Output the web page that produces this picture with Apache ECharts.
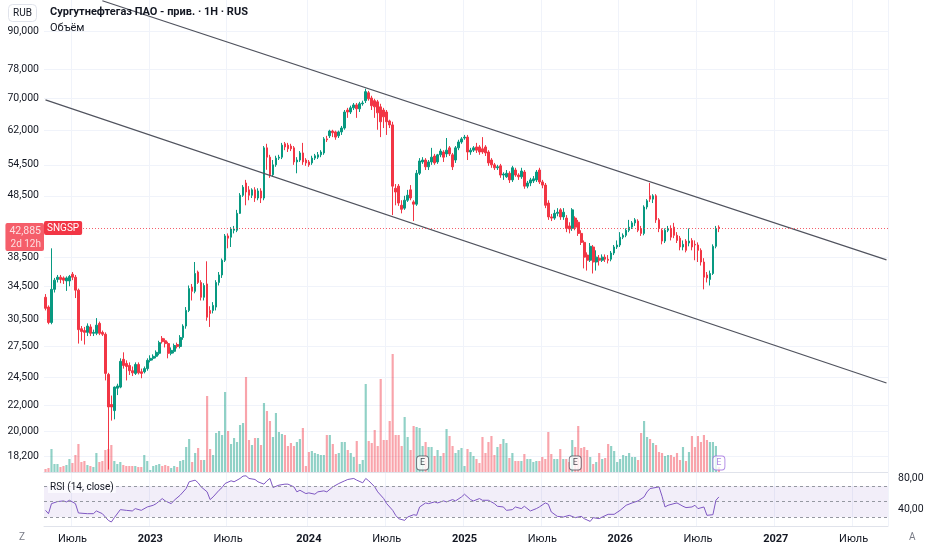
<!DOCTYPE html>
<html>
<head>
<meta charset="utf-8">
<title>SNGSP</title>
<script src="https://cdn.jsdelivr.net/npm/echarts@6.0.0/dist/echarts.min.js"></script>
<style>
  * { margin: 0; padding: 0; }
  body { background: #fff; }
  #main { width: 932px; height: 550px; }
</style>
</head>
<body>
<div id="main"></div>
<script>
// недельные свечи SNGSP (руб.), первая неделя и число недель на оси
var startWeek = '2022-04-25';
var weekCount = 282;

var openPrices = [
  33.1,31.9,30.1,34.1,35.4,35.7,35.6,35.2,35.2,36.1,
  35.7,34.0,29.4,29.2,29.0,29.6,28.9,28.9,30.0,29.0,
  28.8,24.75,22.1,21.6,23.5,23.6,26.2,25.8,25.6,25.1,
  24.85,25.7,25.0,25.0,25.3,26.1,26.3,26.5,26.8,28.35,
  28.1,27.8,26.8,27.0,27.7,27.5,28.45,29.7,31.5,34.4,
  33.85,36.4,35.0,33.1,34.8,31.5,31.5,31.9,35.0,36.0,
  38.05,41.7,41.5,42.6,42.6,45.4,48.6,50.9,49.6,48.6,
  49.6,48.1,49.4,48.1,58.1,56.1,52.5,54.5,55.9,56.1,
  59.0,58.7,58.5,58.1,55.1,55.5,57.0,55.5,55.1,54.9,
  55.9,56.1,56.6,57.0,60.1,60.8,61.9,61.7,60.8,61.7,
  62.6,67.0,66.5,67.55,68.3,67.3,68.6,69.4,71.5,70.1,
  69.4,69.1,67.8,67.0,66.5,64.3,63.35,49.9,50.3,46.8,
  46.3,47.7,49.6,47.4,47.0,52.8,55.1,55.5,54.1,55.1,
  56.35,55.1,56.6,57.2,56.8,58.1,56.6,55.5,58.1,59.4,
  60.3,60.5,57.2,57.6,58.3,58.3,57.9,58.3,57.2,55.5,
  54.5,53.9,54.3,52.45,52.1,52.8,51.5,53.45,52.45,52.1,
  53.05,50.3,50.9,51.3,51.5,53.45,51.1,50.5,47.2,44.8,
  44.6,45.4,46.0,44.8,44.6,43.3,42.9,44.6,43.9,42.1,
  40.7,38.8,38.05,40.0,37.8,38.35,38.05,38.5,38.2,38.2,
  39.1,40.0,40.3,41.5,41.8,42.6,43.1,43.8,44.1,42.8,
  42.1,46.5,48.5,47.9,48.5,44.3,42.6,40.9,42.6,42.9,
  43.1,41.8,41.35,40.0,40.9,40.6,41.0,40.4,40.3,39.5,
  37.8,36.0,35.4,36.2,40.1,43.1
];
var closePrices = [
  31.75,30.1,34.1,35.3,35.7,35.4,35.3,35.6,35.8,35.7,
  34.0,29.3,29.1,29.0,29.7,28.9,29.0,29.8,28.9,28.8,
  24.85,21.9,21.9,23.6,23.7,26.0,25.6,25.5,25.1,24.9,
  25.7,24.9,24.85,25.3,26.1,26.3,26.5,26.9,27.9,28.0,
  27.8,26.8,27.1,27.6,27.5,28.45,29.7,31.5,34.2,33.85,
  36.2,35.0,33.1,34.6,30.7,31.15,32.1,35.0,36.0,38.05,
  41.7,41.35,42.8,42.8,45.4,48.6,50.1,49.2,48.6,49.6,
  48.1,49.4,48.1,58.1,56.1,52.5,54.5,55.9,56.1,58.7,
  58.3,57.9,57.9,55.1,55.5,57.0,55.1,54.9,54.5,55.9,
  56.4,56.6,57.2,60.1,59.9,61.9,61.5,60.5,61.7,62.6,
  66.5,66.5,67.55,68.3,67.3,68.6,68.8,71.8,69.9,68.1,
  67.8,66.3,64.1,65.3,64.1,63.35,50.3,49.2,47.2,46.1,
  47.7,48.6,48.1,47.0,52.8,55.3,55.5,54.1,55.1,56.1,
  54.9,56.6,57.4,56.1,57.6,56.8,54.1,58.1,59.4,60.1,
  60.5,57.2,57.6,58.1,57.6,57.2,57.2,57.0,54.9,54.5,
  53.9,54.1,52.45,52.65,52.8,51.5,53.9,52.45,52.1,53.25,
  50.3,50.9,51.5,51.7,53.05,51.1,50.5,46.8,44.8,44.6,
  45.4,45.6,44.8,45.6,42.9,42.8,46.0,43.1,42.1,40.7,
  38.5,38.05,40.1,37.8,38.5,38.05,38.5,38.2,38.05,39.1,
  40.0,40.3,41.5,41.8,42.6,43.1,43.8,44.3,42.6,42.1,
  46.5,47.6,47.9,48.5,44.3,42.9,40.9,42.6,42.8,41.5,
  41.8,41.0,40.0,40.4,39.5,40.9,40.0,40.3,39.5,37.8,
  35.7,35.6,36.2,40.1,42.9,42.885
];
var highPrices = [
  33.5,32.1,39.8,35.6,36.0,36.0,35.8,35.8,36.0,36.4,
  36.0,34.2,29.7,29.6,30.0,29.9,29.3,30.6,30.2,29.2,
  29.0,24.9,22.86,23.65,23.9,26.3,26.9,26.1,25.9,25.5,
  25.9,25.9,25.3,25.5,26.3,26.6,26.7,27.1,28.1,28.6,
  28.35,28.0,27.4,27.8,27.9,28.7,29.9,31.9,34.6,34.8,
  37.8,36.6,35.3,34.9,37.9,32.0,32.5,35.3,36.4,38.3,
  42.0,42.1,43.1,43.3,46.0,49.0,50.5,51.5,50.3,49.9,
  50.1,49.9,49.9,58.5,59.0,56.6,55.5,56.4,56.6,59.2,
  59.4,59.2,59.0,58.5,56.1,57.4,59.2,55.9,55.5,56.4,
  56.8,57.2,57.6,60.5,60.8,62.2,62.2,62.0,62.0,63.1,
  67.0,67.55,68.1,68.8,68.8,69.1,69.4,72.6,72.0,70.7,
  69.9,69.6,68.6,67.55,67.0,64.6,64.1,50.7,50.7,47.7,
  48.5,49.6,50.5,47.7,53.45,55.9,56.1,55.9,55.5,58.1,
  56.8,56.8,57.9,57.6,60.3,58.5,57.0,58.5,59.9,60.5,
  61.0,61.0,58.1,58.5,59.2,58.7,60.5,58.7,57.6,55.9,
  54.9,54.5,54.7,53.0,53.45,53.2,54.3,53.9,52.8,53.9,
  53.45,51.3,51.9,52.25,53.45,53.9,51.5,50.9,47.7,45.3,
  46.0,46.3,46.3,46.3,45.1,43.9,46.3,44.9,44.3,42.6,
  41.0,39.2,40.6,40.3,39.5,38.8,38.9,38.9,38.8,39.4,
  40.3,41.0,42.3,42.1,42.9,44.3,44.1,44.6,44.4,43.3,
  46.8,47.9,50.9,48.8,48.8,44.6,42.9,42.9,43.3,43.4,
  43.8,42.3,41.7,41.0,41.2,42.9,41.35,41.0,40.7,39.8,
  38.35,36.4,36.6,40.4,43.3,43.4
];
var lowPrices = [
  31.5,29.9,29.9,33.7,35.0,34.9,34.8,33.9,34.5,35.3,
  33.0,27.8,28.1,27.7,28.6,28.6,28.6,28.7,28.7,28.6,
  24.2,17.3,20.8,20.9,22.9,23.5,25.3,24.2,24.7,24.6,
  24.7,24.75,24.4,24.85,25.1,25.9,26.1,26.3,26.6,27.8,
  27.4,26.3,26.6,26.8,27.3,27.3,28.2,29.4,31.3,32.7,
  33.6,34.8,32.7,32.7,30.3,29.6,31.15,31.5,34.6,35.6,
  37.8,39.8,40.0,42.1,42.3,45.3,48.3,46.8,47.7,48.1,
  47.4,47.7,47.2,47.7,53.5,51.9,52.1,54.1,55.5,55.7,
  57.6,57.2,57.4,54.5,52.8,55.1,54.5,54.3,54.1,54.5,
  55.5,55.7,56.1,56.6,59.4,60.3,60.5,59.9,60.3,61.0,
  62.2,65.05,66.0,67.0,65.05,66.5,68.1,68.8,69.4,67.0,
  65.05,62.2,60.5,62.6,61.0,62.6,45.1,46.8,46.7,45.4,
  46.0,47.4,47.7,44.1,46.7,52.45,54.7,53.45,53.45,54.5,
  54.5,54.7,56.1,55.1,56.1,56.35,53.45,54.9,57.6,59.0,
  59.9,55.5,56.6,57.2,57.0,56.6,56.8,56.35,54.3,53.9,
  53.45,53.45,51.9,51.5,51.9,50.9,51.1,52.1,51.5,51.7,
  49.8,49.9,50.3,50.9,51.1,50.7,49.9,46.3,44.3,44.1,
  44.3,44.9,44.3,44.3,42.3,42.1,42.5,42.6,41.7,40.3,
  36.9,36.6,37.8,36.2,36.6,37.3,37.8,37.8,37.6,37.9,
  38.8,39.7,40.0,41.2,41.5,42.3,42.8,43.3,42.3,41.7,
  41.8,46.1,47.4,47.2,43.8,42.3,40.4,40.6,42.3,41.0,
  41.35,40.6,39.5,39.5,39.2,40.1,39.5,38.05,37.8,37.3,
  34.1,35.0,34.6,36.0,39.8,42.3
];
// объём, условные единицы
var volumes = [
  3,4,23,8,8,5,6,7,13,9,
  17,28,10,11,7,6,5,19,10,11,
  22,23,27,11,8,10,7,6,6,6,
  6,5,5,17,11,2,6,7,8,6,
  7,6,4,6,5,11,12,25,33,10,
  19,24,12,12,76,23,17,39,41,37,
  80,41,28,34,30,47,49,95,32,27,
  34,34,27,69,61,51,35,59,40,38,
  37,26,29,26,30,33,44,6,20,21,
  19,18,17,17,37,37,28,18,19,30,
  30,22,19,15,31,8,12,88,31,29,
  42,26,93,32,32,51,118,37,37,26,
  55,35,22,46,45,44,26,30,25,25,
  16,22,16,19,43,36,26,19,22,24,
  6,23,20,16,13,9,35,19,30,36,
  17,25,28,33,29,14,19,11,11,11,
  18,13,13,10,11,11,15,13,40,18,
  13,13,23,13,13,10,32,25,46,24,
  25,22,15,8,10,19,13,14,28,26,
  21,10,13,17,16,19,15,15,12,39,
  51,35,33,29,27,20,19,16,17,17,
  15,19,12,25,11,20,36,25,36,30,
  37,32,30,30,26,5
];
// RSI (14, close): номер недели и значение
var rsiWeeks = [
  0,1,2,4,6,7,8,10,11,14, 16,17,19,21,22,23,25,27,29,30,
  32,34,36,37,39,40,42,43,45,47, 48,50,51,52,54,55,56,58,59,60,
  62,63,65,66,67,68,70,71,73,74, 75,76,78,80,81,83,84,85,87,88,
  90,91,93,94,96,98,100,101,103,104, 106,107,108,110,111,113,114,116,117,118,
  120,121,123,124,125,127,128,130,131,133, 134,136,137,139,140,142,143,145,146,148,
  150,151,153,154,156,157,159,160,162,164, 165,167,168,169,171,173,175,177,179,180,
  182,183,185,186,188,190,192,194,196,198, 200,201,202,204,205,206,207,208,210,211,
  213,214,216,217,218,220,221,223,224,225
];
var rsiValues = [
  38.8,34.5,47.4,50,50.9,49.6,51.7,47.4,35.4,34.5, 34.5,38,34.5,25.9,23.8,29.4,39.7,38.8,38,41,
  38.8,43.1,45.3,47.4,53.9,50.9,47.4,51.7,58.2,66.8, 75.4,77.5,74.1,68.9,62.5,52.6,56,64.6,68.1,73.2,
  76.7,75.4,79.7,82.7,83.1,79.7,78.4,75.4,72.4,76.7, 79.7,68.1,71.1,72.4,72.4,68.9,62.5,64.6,60.3,61.2,
  59.5,62.5,63.8,62.5,68.9,73.2,76.7,78.4,79.7,77.5, 74.1,79.7,76.7,68.9,62.5,53.9,47.4,38.8,32.4,28.1,
  25.9,30.2,33.2,32.4,43.1,48.3,47.4,49.6,48.3,50.9, 49.6,52.6,50.9,56,59.5,52.6,50.9,53.9,51.7,51.7,
  47.4,44,43.1,38.8,39.7,43.1,41,44,38,41, 43.1,48.3,46.6,36.7,31.1,30.2,32.4,29.4,31.1,28.1,
  24.6,29.4,28.1,30.2,33.7,33.7,38.8,45.3,48.3,50.9, 56,62.5,66.8,68.1,68.9,56.9,43.1,45.3,47.4,48.3,
  44,42.3,43.1,45.3,41,43.1,32.4,33.2,51.7,56
];

var priceTicks = [18.2, 20, 22, 24.5, 27.5, 30.5, 34.5, 38.5, 48.5, 54.5, 62, 70, 78, 90];
var priceRange = [17.14, 101.4];
var rsiTicks = [40, 80];
var rsiLevels = [30, 50, 70];
var rsiRange = [18.7, 86.7];
var volumeMax = 472;
var lastPrice = 42.885;
var earningsWeeks = ['2024-09-23', '2025-09-15', '2026-08-17'];
// наклонный канал: две точки на каждую линию (неделя, цена)
var channelUpper = [['2022-09-05', 101.1], ['2027-09-13', 38.1]];
var channelLower = [['2022-04-25', 69.6], ['2027-09-13', 23.97]];

var upColor = '#089981';
var downColor = '#f23645';
var textColor = '#131722';
var gridColor = '#f0f3fa';

// недели для оси X
var weeks = [];
var t0 = Date.parse(startWeek + 'T00:00:00Z');
for (var i = 0; i < weekCount; i++) {
  weeks.push(new Date(t0 + i * 7 * 86400000).toISOString().slice(0, 10));
}
// подписи: неделя, где начинается январь или июль
var weekLabels = {};
weeks.forEach(function (w, i) {
  var d = new Date(w + 'T00:00:00Z');
  var e = new Date(d.getTime() + 6 * 86400000);
  var m = e.getUTCMonth();
  if ((m === 0 || m === 6) && (d.getUTCMonth() !== m || d.getUTCDate() === 1)) {
    weekLabels[i] = m === 0 ? String(e.getUTCFullYear()) : 'Июль';
  }
});
function isLabelWeek(idx) { return weekLabels[idx] !== undefined; }

function fmtPrice(p) { return p.toFixed(3).replace('.', ','); }

var candles = openPrices.map(function (o, i) {
  return [Math.log(o), Math.log(closePrices[i]), Math.log(lowPrices[i]), Math.log(highPrices[i])];
});
var volumeBars = volumes.map(function (v, i) {
  var up = closePrices[i] >= openPrices[i];
  return { value: v, itemStyle: { color: up ? 'rgba(8,153,129,0.45)' : 'rgba(242,54,69,0.45)' } };
});
var rsiData = rsiWeeks.map(function (w, k) { return [w, rsiValues[k]]; });
var earnData = earningsWeeks.map(function (w, k) {
  var last = k === earningsWeeks.length - 1;
  return {
    value: [w, 9],
    itemStyle: { color: '#fff', borderColor: last ? '#9c6ade' : '#50535e', borderWidth: 1 },
    label: { color: last ? '#9c6ade' : textColor }
  };
});

function channel(line) {
  var style = { lineStyle: { color: '#50535e', width: 1.2, type: 'solid' }, label: { show: false } };
  return [
    Object.assign({ coord: [line[0][0], Math.log(line[0][1])] }, style),
    Object.assign({ coord: [line[1][0], Math.log(line[1][1])] }, style)
  ];
}

var chart = echarts.init(document.getElementById('main'));
chart.setOption({
  animation: false,
  textStyle: { fontFamily: 'Roboto, "Noto Sans", sans-serif' },
  title: [
    { text: 'RUB', left: 8, top: 4, padding: [4, 5], borderColor: '#e0e3eb', borderWidth: 1, borderRadius: 4,
      textStyle: { fontSize: 10, fontWeight: 'normal', color: textColor } },
    { text: 'Сургутнефтегаз ПАО - прив. · 1Н · RUS', left: 50, top: 7, padding: 0,
      textStyle: { fontSize: 11, fontWeight: 'bold', color: textColor } },
    { text: 'Объём', left: 50, top: 23, padding: 0,
      textStyle: { fontSize: 11, fontWeight: 'normal', color: textColor } },
    { text: 'RSI (14, close)', left: 48, top: 481, padding: [1, 2], backgroundColor: 'rgba(255,255,255,0.7)',
      textStyle: { fontSize: 10, fontWeight: 'normal', color: textColor } },
    { text: 'Z', left: 19, top: 532, padding: 0, textStyle: { fontSize: 10, fontWeight: 'normal', color: '#787b86' } },
    { text: 'A', left: 909, top: 532, padding: 0, textStyle: { fontSize: 10, fontWeight: 'normal', color: '#787b86' } }
  ],
  grid: [
    { left: 44, right: 44, top: 0, height: 472 },
    { left: 44, right: 44, top: 473, height: 53 }
  ],
  xAxis: [
    { type: 'category', gridIndex: 0, data: weeks,
      axisLine: { lineStyle: { color: '#e0e3eb' } }, axisTick: { show: false }, axisLabel: { show: false },
      splitLine: { show: true, interval: isLabelWeek, lineStyle: { color: gridColor } } },
    { type: 'category', gridIndex: 1, data: weeks,
      axisLine: { lineStyle: { color: '#e0e3eb' } }, axisTick: { show: false },
      splitLine: { show: true, interval: isLabelWeek, lineStyle: { color: gridColor } },
      axisLabel: { interval: isLabelWeek, margin: 8, fontSize: 11, color: textColor,
        formatter: function (v, idx) {
          var t = weekLabels[idx];
          return t === 'Июль' ? t : '{y|' + t + '}';
        },
        rich: { y: { fontSize: 11, fontWeight: 'bold', color: textColor } } } }
  ],
  yAxis: [
    { type: 'value', gridIndex: 0, position: 'left',
      min: Math.log(priceRange[0]), max: Math.log(priceRange[1]),
      axisLine: { show: false },
      axisTick: { show: false, customValues: priceTicks.map(Math.log) },
      axisLabel: { customValues: priceTicks.map(Math.log), margin: 5, fontSize: 10.5, color: textColor,
        formatter: function (v) { return fmtPrice(Math.exp(v)); } },
      splitLine: { show: true, lineStyle: { color: gridColor } } },
    { type: 'value', gridIndex: 0, min: 0, max: volumeMax, show: false, splitLine: { show: false } },
    { type: 'value', gridIndex: 1, position: 'right', min: rsiRange[0], max: rsiRange[1],
      axisLine: { show: false },
      axisTick: { show: false, customValues: rsiTicks },
      axisLabel: { customValues: rsiTicks, margin: 10, fontSize: 10.5, color: textColor,
        formatter: function (v) { return v.toFixed(2).replace('.', ','); } },
      splitLine: { show: false } }
  ],
  series: [
    { name: 'Объём', type: 'bar', xAxisIndex: 0, yAxisIndex: 1, data: volumeBars,
      barWidth: '72%', z: 1, silent: true },
    { name: 'SNGSP', type: 'candlestick', xAxisIndex: 0, yAxisIndex: 0, data: candles,
      barWidth: '72%', z: 3,
      itemStyle: { color: upColor, color0: downColor, borderColor: upColor, borderColor0: downColor, borderWidth: 1 },
      markLine: {
        silent: true, symbol: ['none', 'none'],
        data: [
          channel(channelUpper),
          channel(channelLower),
          { yAxis: Math.log(lastPrice),
            lineStyle: { type: [1, 2], color: downColor, width: 1, opacity: 0.8 },
            label: { show: true, position: 'start', distance: 0, offset: [0, 9],
              formatter: '{p|' + fmtPrice(lastPrice) + '}\n{t|2d 12h}',
              backgroundColor: downColor, borderRadius: 2, padding: [2, 3, 1, 4],
              rich: { p: { color: '#fff', fontSize: 10.5, lineHeight: 13 }, t: { color: '#fff', fontSize: 10, lineHeight: 12 } } } },
          { yAxis: Math.log(lastPrice),
            lineStyle: { color: 'rgba(0,0,0,0)', width: 0 },
            label: { show: true, position: 'insideStartTop', distance: 0, offset: [0, 7],
              formatter: 'SNGSP', color: '#fff', fontSize: 10, backgroundColor: downColor,
              borderRadius: 2, padding: [2, 3] } }
        ]
      } },
    { name: 'E', type: 'scatter', xAxisIndex: 0, yAxisIndex: 1, data: earnData, z: 4,
      symbol: 'roundRect', symbolSize: [12, 14], silent: true,
      label: { show: true, formatter: 'E', position: 'inside', fontSize: 9 } },
    { name: 'RSI', type: 'line', xAxisIndex: 1, yAxisIndex: 2, data: rsiData, z: 3,
      symbol: 'none', connectNulls: true,
      lineStyle: { color: '#7e57c2', width: 1 },
      markArea: { silent: true, itemStyle: { color: 'rgba(126,87,194,0.1)' },
        data: [[{ yAxis: rsiLevels[0] }, { yAxis: rsiLevels[2] }]] },
      markLine: { silent: true, symbol: ['none', 'none'], label: { show: false },
        lineStyle: { color: '#9598a1', type: [3, 3], width: 1 },
        data: rsiLevels.map(function (v) { return { yAxis: v }; }) } }
  ]
});
</script>
</body>
</html>
